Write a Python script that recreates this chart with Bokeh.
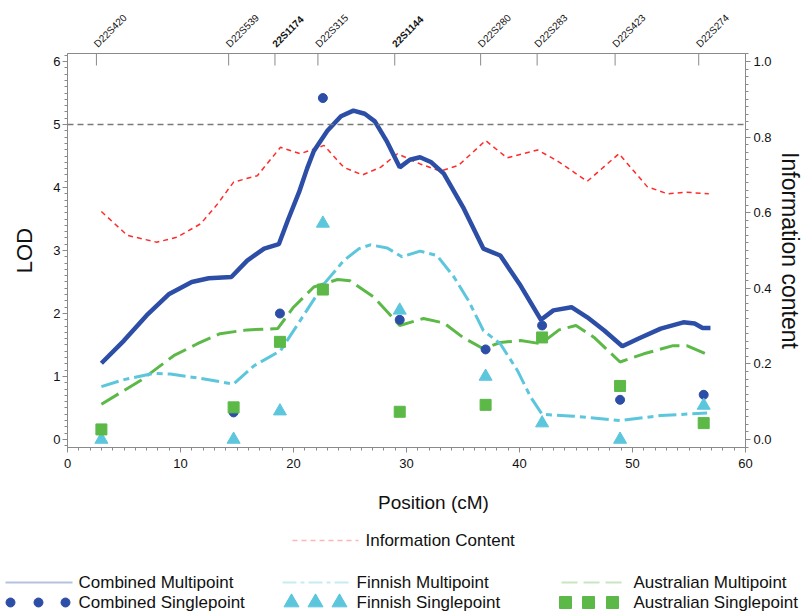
import numpy as np
from bokeh.plotting import figure
from bokeh.models import (Range1d, LinearAxis, SingleIntervalTicker,
                          Span, ColumnDataSource, NumeralTickFormatter)
from bokeh.layouts import column
from bokeh.embed import file_html
from bokeh.resources import INLINE
from bokeh.core.properties import value

# ---------------- data ----------------
marker_names = ["D22S420", "D22S539", "22S1174", "D22S315", "22S1144",
                "D22S280", "D22S283", "D22S423", "D22S274"]
marker_pos = [3.0, 14.7, 18.8, 22.6, 29.4, 37.0, 42.0, 48.9, 56.3]
marker_bold = [False, False, True, False, True, False, False, False, False]

combined_single = [np.nan, 0.43, 2.00, 5.42, 1.90, 1.43, 1.81, 0.63, 0.71]
finnish_single = [0.00, 0.00, 0.45, 3.43, 2.05, 1.00, 0.26, 0.00, 0.54]
australian_single = [0.16, 0.51, 1.55, 2.38, 0.44, 0.55, 1.62, 0.85, 0.26]

comb_x = [3.0, 5.0, 7.0, 9.0, 11.0, 12.5, 14.5, 15.9, 17.4, 18.7, 19.5, 20.5, 21.2,
          21.8, 23.0, 24.2, 25.3, 26.3, 27.2, 28.3, 29.4, 30.3, 31.2, 32.2, 33.3,
          35.0, 36.8, 38.3, 40.0, 41.9, 43.0, 44.6, 46.0, 47.5, 49.1, 50.5, 52.5,
          54.5, 55.5, 56.2, 56.9]
comb_y = [1.21, 1.57, 1.97, 2.31, 2.50, 2.56, 2.58, 2.84, 3.03, 3.10, 3.48, 3.93, 4.30,
          4.58, 4.90, 5.13, 5.22, 5.17, 5.05, 4.72, 4.32, 4.44, 4.48, 4.40, 4.22,
          3.69, 3.03, 2.92, 2.47, 1.90, 2.05, 2.10, 1.94, 1.73, 1.48, 1.60, 1.76,
          1.86, 1.84, 1.77, 1.77]

fin_x = [3.0, 5.0, 7.6, 9.1, 11.8, 14.7, 16.5, 18.85, 20.6, 22.7, 24.45, 25.8, 26.8,
         28.3, 29.6, 31.2, 32.7, 34.2, 35.5, 36.8, 38.3, 39.8, 41.0, 42.0, 44.8,
         48.9, 52.5, 56.6]
fin_y = [0.84, 0.95, 1.05, 1.04, 0.97, 0.88, 1.17, 1.41, 1.89, 2.47, 2.84, 3.03, 3.09,
         3.04, 2.90, 2.99, 2.92, 2.58, 2.20, 1.73, 1.52, 1.10, 0.67, 0.40, 0.37,
         0.30, 0.38, 0.42]

aus_x = [3.0, 6.5, 9.4, 11.5, 13.5, 15.9, 18.6, 20.0, 21.8, 23.9, 25.0, 27.1, 29.4,
         31.5, 33.3, 35.0, 36.8, 38.3, 40.1, 41.9, 43.5, 45.0, 46.6, 48.9, 51.0,
         53.6, 54.8, 56.6]
aus_y = [0.56, 0.94, 1.33, 1.52, 1.68, 1.74, 1.76, 2.10, 2.42, 2.54, 2.52, 2.26, 1.81,
         1.92, 1.85, 1.62, 1.44, 1.54, 1.57, 1.52, 1.74, 1.81, 1.62, 1.23, 1.36,
         1.49, 1.49, 1.35]

info_x = [3.0, 5.3, 7.9, 9.7, 11.8, 13.3, 14.7, 16.8, 18.85, 20.6, 22.7, 24.45, 26.1,
          27.7, 29.2, 31.2, 33.0, 34.6, 37.0, 38.9, 41.6, 43.3, 46.0, 48.8, 51.3,
          53.1, 54.8, 56.75]
info_y = [0.603, 0.540, 0.522, 0.535, 0.571, 0.624, 0.681, 0.698, 0.773, 0.756, 0.778,
          0.720, 0.700, 0.720, 0.756, 0.729, 0.710, 0.725, 0.791, 0.745, 0.766, 0.738,
          0.683, 0.756, 0.669, 0.650, 0.654, 0.650]

threshold = 5.0
x_ticks_interval = 10
lod_ticks_interval = 1
ic_ticks_interval = 0.2

legend_top = "Information Content"
legend_multi = ["Combined Multipoint", "Finnish Multipoint", "Australian Multipoint"]
legend_single = ["Combined Singlepoint", "Finnish Singlepoint", "Australian Singlepoint"]

# ---------------- style ----------------
FONT = "Liberation Sans"
GREY = "#8a8a8a"
BLUE = "#2d4ea6"
CYAN = "#5cc6dc"
GREEN = "#5cb947"
RED = "#ff2b2b"
TXT = "#111111"

LOD_MIN, LOD_MAX = -0.127, 6.127
X_MIN, X_MAX = 0, 60
TOP_SHIFT = 0.44

FW, FH = 678, 394
BL, BR = 67, 55
TOTAL_W = BL + FW + BR
TOP_H = 48
BOT_TOP, BOT_BOTTOM = 477, 613

# ---------------- top strip: marker names ----------------
top = figure(frame_width=FW, frame_height=TOP_H, min_border_left=BL, min_border_right=BR,
             min_border_top=0, min_border_bottom=0,
             x_range=Range1d(X_MIN + TOP_SHIFT, X_MAX + TOP_SHIFT), y_range=Range1d(0, TOP_H),
             toolbar_location=None, output_backend="svg",
             x_axis_location=None, y_axis_location=None)
top.grid.visible = False
top.outline_line_color = None
for bold in (False, True):
    idx = [i for i, b in enumerate(marker_bold) if b == bold]
    src = ColumnDataSource(dict(x=[marker_pos[i] for i in idx],
                                y=[3] * len(idx),
                                t=[marker_names[i] for i in idx]))
    top.text(x="x", y="y", text="t", source=src, angle=np.pi / 4,
             text_align="left", text_baseline="middle", x_offset=-1,
             text_font=value(FONT), text_font_size="10px",
             text_font_style="bold" if bold else "normal", text_color=TXT)

# ---------------- main plot ----------------
p = figure(frame_width=FW, frame_height=FH, min_border_left=BL, min_border_right=BR,
           min_border_top=5, min_border_bottom=30,
           x_range=Range1d(X_MIN, X_MAX), y_range=Range1d(LOD_MIN, LOD_MAX),
           toolbar_location=None, output_backend="svg")
p.grid.visible = False
p.outline_line_color = GREY
p.extra_y_ranges = {"ic": Range1d(LOD_MIN / 6, LOD_MAX / 6)}
p.extra_x_ranges = {"top": Range1d(X_MIN + TOP_SHIFT, X_MAX + TOP_SHIFT)}


def style_axis(ax):
    ax.axis_line_color = GREY
    ax.major_tick_line_color = GREY
    ax.minor_tick_line_color = GREY
    ax.major_tick_out = 5
    ax.major_tick_in = 0
    ax.minor_tick_out = 3
    ax.minor_tick_in = 0
    ax.major_label_text_font = FONT
    ax.major_label_text_font_size = "13px"
    ax.major_label_text_color = TXT
    ax.axis_label_text_font = FONT
    ax.axis_label_text_font_style = "normal"
    ax.axis_label_text_color = TXT


xa = p.xaxis[0]
style_axis(xa)
xa.ticker = SingleIntervalTicker(interval=x_ticks_interval, num_minor_ticks=10)
xa.major_label_standoff = 6

ya = p.yaxis[0]
style_axis(ya)
ya.ticker = SingleIntervalTicker(interval=lod_ticks_interval, num_minor_ticks=10)
ya.major_label_standoff = 2
ya.axis_label = "LOD"
ya.axis_label_text_font_size = "22px"
ya.axis_label_standoff = 13

ra = LinearAxis(y_range_name="ic",
                ticker=SingleIntervalTicker(interval=ic_ticks_interval, num_minor_ticks=10),
                formatter=NumeralTickFormatter(format="0.0"),
                axis_label="Information content")
style_axis(ra)
ra.major_label_standoff = 3
ra.axis_label_text_font_size = "23px"
ra.axis_label_standoff = 2
p.add_layout(ra, "right")

# marker ticks hanging from the top edge into the plot
p.scatter(marker_pos, [LOD_MAX] * len(marker_pos), x_range_name="top",
          marker="dash", angle=np.pi / 2, size=24, line_color=GREY, line_width=1)

p.add_layout(Span(location=threshold, dimension="width", line_color="#7a7a7a",
                  line_dash="6 4", line_width=1.5))

p.line(info_x, info_y, y_range_name="ic", line_color=RED, line_width=1.5, line_dash="5 4")
p.line(aus_x, aus_y, line_color=GREEN, line_width=3, line_dash="20 7")
p.line(fin_x, fin_y, line_color=CYAN, line_width=3, line_dash="18 5 6 5")
p.line(comb_x, comb_y, line_color=BLUE, line_width=4.5)

p.scatter(marker_pos, np.array(combined_single, dtype=float), marker="circle", size=9,
          fill_color=BLUE, line_color=BLUE)
p.scatter(marker_pos, finnish_single, marker="triangle", size=13,
          fill_color=CYAN, line_color=CYAN)
p.scatter(marker_pos, australian_single, marker="square", size=11,
          fill_color=GREEN, line_color=GREEN)

# ---------------- bottom strip: x title + legend ----------------
bot = figure(frame_width=TOTAL_W, frame_height=BOT_BOTTOM - BOT_TOP, min_border=0,
             x_range=Range1d(0, TOTAL_W), y_range=Range1d(BOT_BOTTOM, BOT_TOP),
             toolbar_location=None, output_backend="svg",
             x_axis_location=None, y_axis_location=None)
bot.grid.visible = False
bot.outline_line_color = None


def txt(x, y, s, size="17px", align="left"):
    bot.text(x=[x], y=[y], text=[s], text_align=align, text_baseline="middle",
             text_font=value(FONT), text_font_size=size, text_color=TXT)


txt(433, 502, "Position (cM)", size="19px", align="center")

bot.line([292, 358], [540, 540], line_color=RED, line_alpha=0.35, line_width=1.5,
         line_dash="5 4")
txt(365, 540, legend_top)

cols_line = [(5, 72), (282, 349), (561, 623)]
cols_text = [78, 356, 633]
cols_marks = [[10, 38, 65], [291, 315, 339], [565, 588, 612]]
line_styles = [dict(line_color=BLUE, line_dash="solid"),
               dict(line_color=CYAN, line_dash="14 4 4 4"),
               dict(line_color=GREEN, line_dash="16 6")]
mark_styles = [dict(marker="circle", size=9, color=BLUE),
               dict(marker="triangle", size=15, color=CYAN),
               dict(marker="square", size=12, color=GREEN)]
ROW1, ROW2 = 582, 602
for i in range(3):
    x0, x1 = cols_line[i]
    bot.line([x0, x1], [ROW1, ROW1], line_alpha=0.35, line_width=2, **line_styles[i])
    txt(cols_text[i], ROW1, legend_multi[i])
    ms = mark_styles[i]
    bot.scatter(cols_marks[i], [ROW2] * 3, marker=ms["marker"], size=ms["size"],
                fill_color=ms["color"], line_color=ms["color"])
    txt(cols_text[i], ROW2, legend_single[i])

layout = column(column(top, p, spacing=0), bot, spacing=0)
open("out.html", "w").write(file_html(layout, INLINE))
